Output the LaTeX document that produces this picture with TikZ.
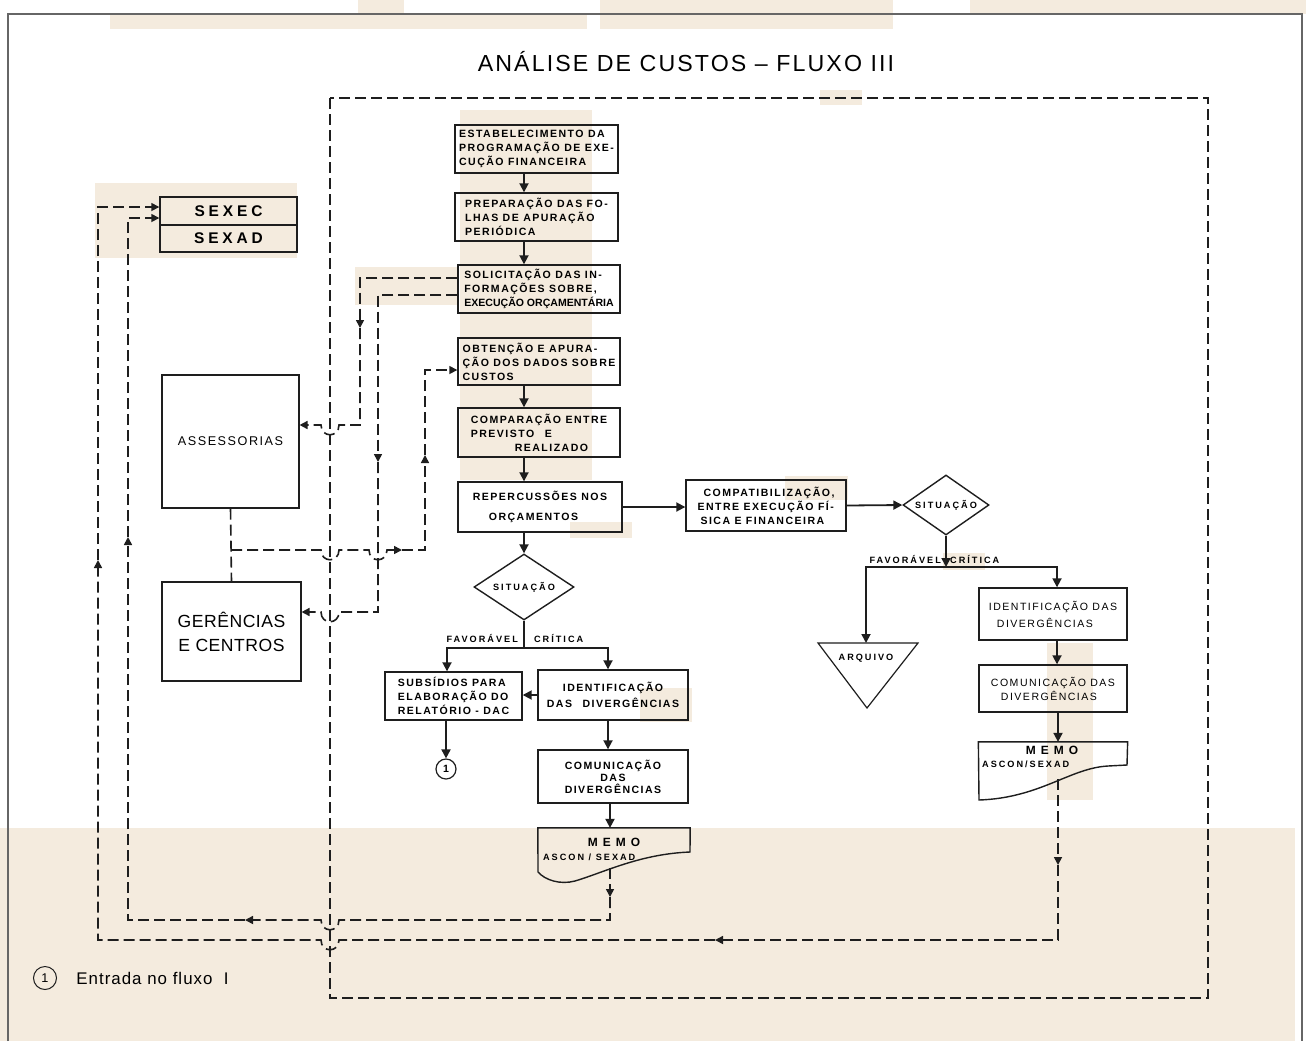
\documentclass[tikz,border=0pt]{standalone}
\usepackage{fontspec}
\setmainfont{Liberation Sans}
\newfontfamily\lettering[LetterSpace=14]{Liberation Sans}
\newfontfamily\widefont[LetterSpace=9]{Liberation Sans}
\usetikzlibrary{arrows.meta,shapes.geometric}
\definecolor{paper}{RGB}{244,235,222}
\definecolor{ink}{RGB}{30,30,30}

\begin{document}
\begin{tikzpicture}[x=0.5mm,y=-0.5mm,
  box/.style={draw=ink, line width=0.7mm, inner sep=0pt, align=left,
    font=\lettering\bfseries\fontsize{15}{20}\selectfont},
  lightbox/.style={box, font=\lettering\fontsize{15}{20}\selectfont},
  bigbox/.style={draw=ink, line width=0.55mm, inner sep=0pt, align=center},
  lbl/.style={inner sep=0pt, font=\lettering\bfseries\fontsize{13}{15}\selectfont\addfontfeature{LetterSpace=22}},
  decision/.style={diamond, draw=ink, line width=0.7mm, inner sep=0pt, aspect=1.5,
    font=\lettering\bfseries\fontsize{13}{15}\selectfont\addfontfeature{LetterSpace=22}},
  flow/.style={draw=ink, line width=0.9mm, -{Triangle[length=4.5mm,width=4.5mm]}},
  fline/.style={draw=ink, line width=0.9mm},
  dline/.style={draw=ink, line width=0.8mm, dash pattern=on 5.5mm off 2.5mm},
  darrow/.style={dline, -{Triangle[length=4mm,width=4mm]}}]
\useasboundingbox (0,0) rectangle (1306,1041);
% paper
\fill[white] (0,0) rectangle (1306,1041);
\fill[paper] (0,828) rectangle (1295,1041);
\fill[paper] (95,183) rectangle (297,258);
\fill[paper] (460,110) rectangle (592,480);
\fill[paper] (570,522) rectangle (632,538);
\fill[paper] (355,267) rectangle (458,305);
\fill[paper] (640,688) rectangle (692,722);
\fill[paper] (785,476) rectangle (848,500);
\fill[paper] (943,553) rectangle (985,570);
\fill[paper] (1047,643) rectangle (1093,800);
\fill[paper] (110,14) rectangle (587,29);
\fill[paper] (600,0) rectangle (893,29);
\fill[paper] (358,0) rectangle (404,14);
\fill[paper] (970,0) rectangle (1306,14);
\fill[paper] (820,90) rectangle (862,105);
\draw[gray!80!black, line width=0.6mm] (8,1041) -- (8,14) -- (1302,14) -- (1302,1041);

% title
\node (title) at (686,62) {\widefont\fontsize{33}{38}\selectfont ANÁLISE DE CUSTOS – FLUXO III};

% main column
\node[box, minimum width=81.5mm, minimum height=24mm] (est) at (536.5,149)
  {ESTABELECIMENTO DA\\PROGRAMAÇÃO DE EXE-\\CUÇÃO FINANCEIRA};
\node[box, minimum width=81.5mm, minimum height=24mm] (prep) at (536.5,217)
  {PREPARAÇÃO DAS FO-\\LHAS DE APURAÇÃO\\PERIÓDICA};
\node[box, minimum width=81mm, minimum height=24mm] (solic) at (539,289)
  {SOLICITAÇÃO DAS IN-\\FORMAÇÕES SOBRE,\\{\addfontfeature{LetterSpace=0}EXECUÇÃO ORÇAMENTÁRIA}};
\node[box, minimum width=81mm, minimum height=23.5mm] (obt) at (539,361.5)
  {OBTENÇÃO E APURA-\\ÇÃO DOS DADOS SOBRE\\CUSTOS};
\node[box, minimum width=81mm, minimum height=24.5mm] (comp) at (539,432.5)
  {COMPARAÇÃO ENTRE\\PREVISTO\quad E\\\hspace*{22mm}REALIZADO};
\node[box, minimum width=82mm, minimum height=25mm] (rep) at (540,507)
  {REPERCUSSÕES NOS\\[3mm]\hspace*{8mm}ORÇAMENTOS};
\node[decision, minimum width=50mm, minimum height=33mm] (sit1) at (524,587) {SITUAÇÃO};
\node[lbl, anchor=east] (fav1) at (518,638) {FAVORÁVEL};
\node[lbl, anchor=west] (crit1) at (534,638) {CRÍTICA};
\node[box, minimum width=68.5mm, minimum height=24mm] (sub) at (453.5,696)
  {SUBSÍDIOS PARA\\ELABORAÇÃO DO\\RELATÓRIO - DAC};
\node[box, align=center, minimum width=75mm, minimum height=25mm] (ident1) at (613,695)
  {IDENTIFICAÇÃO\\[1mm]DAS\quad DIVERGÊNCIAS};
\node[draw=ink, circle, line width=0.6mm, minimum size=10mm, inner sep=0pt,
  font=\bfseries\fontsize{15}{16}\selectfont] (c1) at (446,769) {1};
\node[box, align=center, minimum width=75mm, minimum height=26.5mm] (comun1) at (613,776.5)
  {COMUNICAÇÃO\\[-1mm]DAS\\[-1mm]DIVERGÊNCIAS};
\node[minimum width=76mm, minimum height=26mm, inner sep=0pt] (memo1) at (614,854) {};
\node[lbl, font=\lettering\bfseries\fontsize{17}{18}\selectfont] (memo1a) at (614,842) {M E M O};
\node[lbl, anchor=west] (memo1b) at (543,857) {ASCON / SEXAD};

% right branch
\node[box, minimum width=80mm, minimum height=25.5mm] (compat) at (766,505.5)
  {\hspace*{3mm}COMPATIBILIZAÇÃO,\\ENTRE EXECUÇÃO FÍ-\\\hspace*{1.5mm}SICA E FINANCEIRA};
\node[decision, minimum width=43mm, minimum height=30mm] (sit2) at (946,505) {SITUAÇÃO};
\node[lbl, anchor=east] (fav2) at (941,559) {FAVORÁVEL};
\node[lbl, anchor=west] (crit2) at (950,559) {CRÍTICA};
\node[lbl] (arq) at (866,658) {ARQUIVO};
\coordinate (arqtop) at (866,643);
\node[lightbox, minimum width=74mm, minimum height=26mm] (ident2) at (1053,614)
  {IDENTIFICAÇÃO DAS\\[1.5mm]\hspace*{4mm}DIVERGÊNCIAS};
\node[lightbox, minimum width=74mm, minimum height=23.5mm] (comun2) at (1053,688.5)
  {COMUNICAÇÃO DAS\\\hspace*{5mm}DIVERGÊNCIAS};
\node[minimum width=74.5mm, minimum height=29mm, inner sep=0pt] (memo2) at (1053,771) {};
\node[lbl, font=\lettering\bfseries\fontsize{17}{18}\selectfont] (memo2a) at (1052,750) {M E M O};
\node[lbl, anchor=west] (memo2b) at (982,764) {ASCON/SEXAD};

% left side
\node[box, align=center, minimum width=68.5mm, minimum height=14mm,
  font=\lettering\bfseries\fontsize{22}{24}\selectfont\addfontfeature{LetterSpace=25}] (sexec) at (228.5,211) {SEXEC};
\node[box, align=center, minimum width=68.5mm, minimum height=13.5mm,
  font=\lettering\bfseries\fontsize{22}{24}\selectfont\addfontfeature{LetterSpace=25}] (sexad) at (228.5,238.5) {SEXAD};
\node[bigbox, minimum width=68.5mm, minimum height=66.5mm,
  font=\lettering\fontsize{18}{20}\selectfont\addfontfeature{LetterSpace=12}] (assess) at (230.5,441.5) {ASSESSORIAS};
\node[bigbox, minimum width=69.5mm, minimum height=49.5mm,
  font=\lettering\fontsize{25}{34}\selectfont\addfontfeature{LetterSpace=3}] (ger) at (231.5,631.5) {GERÊNCIAS\\E CENTROS};

% legend
\node[draw=ink, circle, line width=0.5mm, minimum size=11.5mm, inner sep=0pt,
  font=\fontsize{18}{20}\selectfont] (c0) at (45,978) {1};
\node[anchor=west, font=\widefont\fontsize{24}{26}\selectfont\addfontfeature{LetterSpace=6}] (legend) at (74,978) {Entrada no fluxo\ \ I};

% shapes drawn by hand
\draw[draw=ink, line width=0.6mm] (818,643) -- (918,643) -- (867,708) -- cycle;
\draw[draw=ink, line width=0.7mm] (memo1.north west) -- (memo1.north east) -- (690,852)
  .. controls (640,854) and (605,872) .. (575,881) .. controls (560,885) and (545,880) .. (538,872) -- cycle;
\draw[draw=ink, line width=0.7mm] (memo2.north west) -- (memo2.north east) -- (1127,765) -- (1108,766)
  .. controls (1070,768) and (1040,798) .. (979,800) -- cycle;

% solid flow
\draw[flow] (est.south -| sit1) -- (prep.north -| sit1);
\draw[flow] (prep.south -| sit1) -- (solic.north -| sit1);
\draw[flow] (obt.south -| sit1) -- (comp.north -| sit1);
\draw[flow] (comp.south -| sit1) -- (rep.north -| sit1);
\draw[flow] (rep.south -| sit1) -- (sit1.north);
\coordinate (fork1) at (524,648);
\draw[fline] (sit1.south) -- (fork1);
\draw[flow] (fork1) -| (sub.north -| 447,0);
\draw[flow] (fork1) -| (ident1.north -| 608,0);
\draw[flow] (ident1.west) -- (ident1.west -| sub.east);
\draw[flow] (sub.south -| c1) -- (c1.north);
\draw[flow] (ident1.south -| 608,0) -- (comun1.north -| 608,0);
\draw[flow] (comun1.south -| 610,0) -- (memo1.north -| 610,0);
\draw[flow] (rep.east) -- (rep.east -| compat.west);
\draw[flow] (compat.east) -- (sit2.west);
\coordinate (fork2) at (946,567);
\draw[flow] (sit2.south) -- (fork2);
\draw[flow] (fork2) -| (arqtop);
\draw[flow] (fork2) -| (ident2.north -| 1057,0);
\draw[flow] (ident2.south -| 1057,0) -- (comun2.north -| 1057,0);
\draw[flow] (comun2.south -| 1058,0) -- (memo2.north -| 1058,0);

% dashed routes
\draw[dline] (330,98) rectangle (1208,998);
\draw[darrow] (solic.west |- 0,278) -- (360,278) -- (360,328);
\draw[darrow] (360,328) -- (360,425) -- (339,425) .. controls (339,438) and (321,438) .. (321,425)
  -- (assess.east |- 0,425);
\draw[darrow] (solic.west |- 0,295) -- (378,295) -- (378,462);
\draw[darrow] (378,462) -- (378,612) -- (339,612) .. controls (339,625) and (321,625) .. (321,612)
  -- (ger.east |- 0,612);
\coordinate (j1) at (231,550);
\draw[dline] (assess.south) -- (ger.north);
\draw[darrow] (j1) -- (321,550) .. controls (321,563) and (339,563) .. (339,550)
  -- (369,550) .. controls (369,563) and (387,563) .. (387,550) -- (402,550);
\draw[darrow] (402,550) -- (425,550) -- (425,455);
\draw[darrow] (425,455) -- (425,370) -- (obt.west |- 0,370);
% back to SEXEC
\draw[darrow] (610,868) -- (610,897);
\draw[darrow] (610,897) -- (610,920) -- (339,920) .. controls (339,933) and (321,933) .. (321,920) -- (245,920);
\draw[darrow] (245,920) -- (128,920) -- (128,537);
\draw[darrow] (128,537) -- (128,218) -- (sexec.west |- 0,218);
\draw[darrow] (1058,779) -- (1058,865);
\draw[darrow] (1058,865) -- (1058,940) -- (715,940);
\draw[darrow] (715,940) -- (339,940) .. controls (339,953) and (321,953) .. (321,940) -- (98,940) -- (98,560);
\draw[darrow] (98,560) -- (98,207) -- (sexec.west |- 0,207);
\end{tikzpicture}
\end{document}
